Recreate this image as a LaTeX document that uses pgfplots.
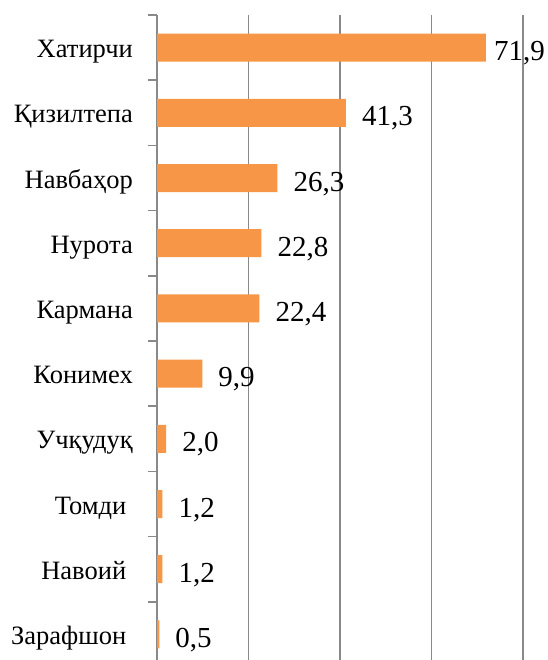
\documentclass[border=0pt]{standalone}
\usepackage{pgfplots}
\pgfplotsset{compat=1.18}
\usepackage{pgfplotstable}
\usepackage{fontspec}
\setmainfont{Liberation Serif}
\definecolor{barorange}{HTML}{F79646}
\definecolor{gridgray}{HTML}{898989}
\pgfplotstableread{
idx val sh
0 71.9 8
1 41.3 16
2 26.3 16
3 22.8 16
4 22.4 16
5 9.9 16
6 2.0 16
7 1.2 16
8 1.2 16
9 0.5 16
}\datatable
\begin{document}
\begin{tikzpicture}
\useasboundingbox (0pt,0pt) rectangle (547pt,660pt);
\begin{axis}[
  at={(157pt,-7pt)}, anchor=south west,
  scale only axis, width=366pt, height=652pt,
  xbar, bar width=28pt, bar shift=0pt,
  xmin=0, xmax=80, ymin=-0.5, ymax=9.5,
  enlargelimits=false,
  y dir=reverse,
  axis x line*=bottom, axis y line*=left,
  x axis line style={draw=none},
  y axis line style={draw=gridgray, line width=1.5pt, -},
  xtick={20,40,60,80}, xticklabels={}, xtick style={draw=none},
  xmajorgrids, major grid style={draw=gridgray, line width=1.5pt},
  ytick={0,...,9},
  yticklabels={Хатирчи,Қизилтепа,Навбаҳор,Нурота,Кармана,Конимех,Учқудуқ,Томди\hspace*{0.25em},Навоий\hspace*{0.25em},Зарафшон\hspace*{0.25em}},
  minor ytick={-0.5,0.5,...,9.5},
  ytick pos=left, tick align=outside,
  major tick length=0pt, minor tick length=9pt,
  minor tick style={draw=gridgray, line width=1.5pt},
  yticklabel style={font=\fontsize{26.5}{30}\selectfont, anchor=base east, inner sep=0pt, xshift=-24pt, yshift=-10pt},
  /pgf/number format/.cd, fixed, fixed zerofill, precision=1, use comma, assume math mode=true,
  /pgfplots/.cd,
  nodes near coords,
  visualization depends on={\thisrow{sh} \as \sh},
  nodes near coords style={font=\fontsize{29}{33}\selectfont, anchor=base west, inner sep=0pt, xshift=\sh pt, yshift=-13pt, text=black},
]
\addplot[fill=barorange, draw=none] table[x=val, y=idx] {\datatable};
\end{axis}
\end{tikzpicture}
\end{document}
